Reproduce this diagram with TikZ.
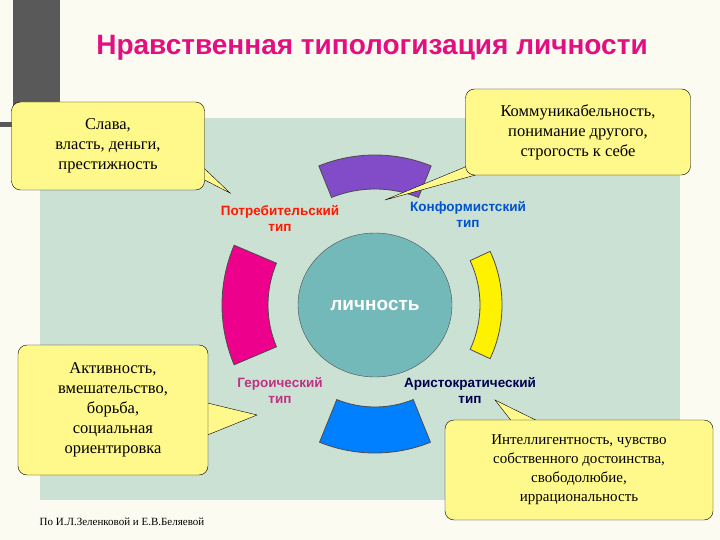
\documentclass[tikz,border=0pt]{standalone}
\usepackage{fontspec}
\setmainfont{Liberation Serif}
\newfontfamily\sansf{Liberation Sans}
\usetikzlibrary{calc,shapes.geometric}
\begin{document}
\begin{tikzpicture}[x=1pt,y=-1pt,
  callout/.style={draw=black,fill=yellow!45,rounded corners=9pt,align=center,font=\fontsize{16.5}{20}\selectfont,inner sep=3pt},
  tail/.style={draw=black,fill=yellow!45},
  typ/.style={font=\sansf\bfseries\fontsize{13.5}{16}\selectfont,align=center},
  seg/.style={draw=black!70,line width=0.8pt}]
\useasboundingbox (0,0) rectangle (720,540);
\fill[black!4!white!90!yellow!40] (0,0) rectangle (720,540);
\fill[gray!70!black] (13,0) rectangle (60,125);
\fill[gray!70!black] (0,122) rectangle (40,127);
\fill[cyan!30!green!18!white!85!gray] (40,118) rectangle (680,500);
% title
\node[font=\sansf\bfseries\fontsize{28}{32}\selectfont,text=magenta!80!purple] (title) at (372,48) {Нравственная типологизация личности};
% segments
\coordinate (c) at (375,305);
\filldraw[seg,fill=violet!60!blue!70!white] ($(c)+(-112:150)$) arc[start angle=-112,end angle=-68,radius=150] -- ($(c)+(-68:116)$) arc[start angle=-68,end angle=-112,radius=116] -- cycle;
\filldraw[seg,fill=magenta] ($(c)+(157:153)$) arc[start angle=157,end angle=203,radius=153] -- ($(c)+(203:107)$) arc[start angle=203,end angle=157,radius=107] -- cycle;
\filldraw[seg,fill=yellow] ($(c)+(-25:127)$) arc[start angle=-25,end angle=25,radius=127] -- ($(c)+(25:105)$) arc[start angle=25,end angle=-25,radius=105] -- cycle;
\filldraw[seg,fill=blue!50!cyan] ($(c)+(112:148)$) arc[start angle=112,end angle=68,radius=148] -- ($(c)+(68:102)$) arc[start angle=68,end angle=112,radius=102] -- cycle;
\node[draw=black!70,fill=teal!55!white,ellipse,minimum width=154pt,minimum height=144pt,inner sep=0pt] (lich) at (c) {};
\node[font=\sansf\bfseries\fontsize{19}{22}\selectfont,text=white] (lt) at (c) {личность};
% type labels
\node[typ,text=red!80!orange] (potr) at (280,218) {Потребительский\\тип};
\node[typ,text=blue!60!cyan!80!black] (konf) at (468,214) {Конформистский\\тип};
\node[typ,text=magenta!75!black] (ger) at (280,390) {Героический\\тип};
\node[typ,text=blue!30!black] (arist) at (470,390) {Аристократический\\тип};
% callouts
\coordinate (t1) at (230,193);
\filldraw[tail] (185,150) -- (t1) -- (195,175) -- cycle;
\node[callout,minimum width=193pt,minimum height=88pt] (c1) at (108,146) {Слава,\\власть, деньги,\\престижность};
\coordinate (t2) at (385,200);
\filldraw[tail] (530,160) -- (t2) -- (470,165) -- cycle;
\node[callout,minimum width=225pt,minimum height=86pt] (c2) at (578,132) {Коммуникабельность,\\понимание другого,\\строгость к себе};
\coordinate (t3) at (257,415);
\filldraw[tail] (195,400) -- (t3) -- (195,440) -- cycle;
\node[callout,minimum width=190pt,minimum height=130pt] (c3) at (113,410) {Активность,\\вмешательство,\\борьба,\\социальная\\ориентировка};
\coordinate (t4) at (495,400);
\filldraw[tail] (520,432) -- (t4) -- (560,432) -- cycle;
\node[callout,minimum width=268pt,minimum height=100pt,font=\fontsize{15}{19}\selectfont] (c4) at (579,470) {Интеллигентность, чувство\\собственного достоинства,\\свободолюбие,\\иррациональность};
\node[font=\fontsize{11}{13}\selectfont] (src) at (122,522) {По И.Л.Зеленковой и Е.В.Беляевой};
\end{tikzpicture}
\end{document}
